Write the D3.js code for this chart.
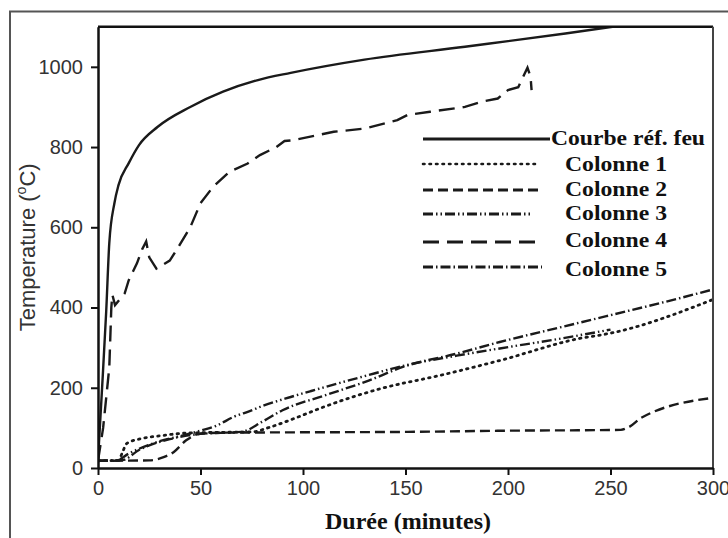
<!DOCTYPE html>
<html>
<head>
<meta charset="utf-8">
<script src="https://cdn.jsdelivr.net/npm/d3@7"></script>
<style>
  body { margin: 0; background: #fff; }
  svg { display: block; }
</style>
</head>
<body>
<div id="chart"></div>
<script>
// values: [minutes, °C]
const refCurve = [[0,20],[2,200],[4,390],[5.5,560],[8,660],[10,705],[15,760],[20,805],[29,850],[45,900],[61,938],[78,967],[94,985],[130,1018],[179,1050],[228,1083],[251,1100]];
const colonne1 = [[0,18],[10,19],[12,40],[14,61],[20,72],[30,80],[40,86],[50,88],[75,90],[84,102],[95,122],[110,152],[138,198],[167,231],[196,268],[235,323],[250,336],[300,420]];
const colonne2 = [[0,18],[25,19],[32,27],[37,40],[43,69],[50,86],[60,88],[100,89],[150,90],[200,93],[255,95],[259,102],[265,125],[300,175]];
const colonne3 = [[0,18],[9,19],[15,36],[29,65],[42,82],[50,93],[58,106],[66,127],[74,142],[81,156],[94,177],[104,192],[130,229],[150,256],[175,280],[196,298],[225,322],[250,345]];
const colonne4 = [[0,18],[2.5,100],[5.5,250],[6.5,400],[7,432],[8.3,406],[13,435],[15,468],[19,510],[21.5,545],[23.5,565],[25,525],[28.5,497],[35,517],[38.5,545],[45,600],[50,660],[56,700],[64,738],[73,759],[79,780],[87,800],[91,815],[95,817],[115,838],[130,846],[146,867],[151,880],[162,888],[179,900],[187,913],[195,921],[200,942],[205,949],[209.5,998],[211,975],[211.5,942]];
const colonne5 = [[0,18],[12,20],[20,45],[35,72],[50,85],[70,90],[80,115],[90,144],[110,180],[130,214],[150,254],[175,285],[196,314],[225,350],[250,381],[275,412],[300,445]];

const xTicks = [0, 50, 100, 150, 200, 250, 300];
const yTicks = [0, 200, 400, 600, 800, 1000];
const seriesNames = ["Courbe réf. feu", "Colonne 1", "Colonne 2", "Colonne 3", "Colonne 4", "Colonne 5"];

const series = [
  { name: seriesNames[0], data: refCurve, dash: null, curve: d3.curveMonotoneX },
  { name: seriesNames[1], data: colonne1, dash: "1.5,5", curve: d3.curveMonotoneX, round: true },
  { name: seriesNames[2], data: colonne2, dash: "10,5", curve: d3.curveMonotoneX },
  { name: seriesNames[3], data: colonne3, dash: "10,3,1.5,3,1.5,3", curve: d3.curveMonotoneX },
  { name: seriesNames[4], data: colonne4, dash: "16,8", curve: d3.curveLinear },
  { name: seriesNames[5], data: colonne5, dash: "10,3,1.5,3", curve: d3.curveMonotoneX }
];

const width = 728, height = 538;
const margin = {top: 26.7, right: 15, bottom: 70, left: 98};

const svg = d3.select("#chart").append("svg")
  .attr("width", width)
  .attr("height", height);

// outer frame (only top and left visible)
svg.append("path")
  .attr("d", `M10,${height} L10,11.5 L${width},11.5`)
  .attr("fill", "none")
  .attr("stroke", "#555")
  .attr("stroke-width", 2);

const x = d3.scaleLinear().domain([0, 300]).range([margin.left, width - margin.right]);
const y = d3.scaleLinear().domain([0, 1100]).range([height - margin.bottom, margin.top]);

svg.append("clipPath").attr("id", "plot-clip")
  .append("rect")
  .attr("x", x(0)).attr("y", y(1100))
  .attr("width", x(300) - x(0)).attr("height", y(0) - y(1100));

// curves
const line = d3.line().x(d => x(d[0])).y(d => y(d[1]));
const curves = svg.append("g").attr("clip-path", "url(#plot-clip)");
series.forEach(s => {
  curves.append("path")
    .datum(s.data)
    .attr("d", line.curve(s.curve))
    .attr("fill", "none")
    .attr("stroke", "#1a1a1a")
    .attr("stroke-width", s.round ? 2.8 : 2.4)
    .attr("stroke-linecap", s.round ? "round" : "butt")
    .attr("stroke-dasharray", s.dash);
});

// frame: top black, right grey
svg.append("line")
  .attr("x1", x(0)).attr("x2", x(300))
  .attr("y1", y(1100)).attr("y2", y(1100))
  .attr("stroke", "#111").attr("stroke-width", 2.5);
svg.append("line")
  .attr("x1", x(300)).attr("x2", x(300))
  .attr("y1", y(1100)).attr("y2", y(0))
  .attr("stroke", "#444").attr("stroke-width", 2);

// axes
const xAxis = svg.append("g")
  .attr("transform", `translate(0,${y(0)})`)
  .call(d3.axisBottom(x).tickValues(xTicks).tickFormat(d3.format("d")).tickSize(7).tickPadding(6).tickSizeOuter(0));
const yAxis = svg.append("g")
  .attr("transform", `translate(${x(0)},0)`)
  .call(d3.axisLeft(y).tickValues(yTicks).tickFormat(d3.format("d")).tickSize(7).tickPadding(8).tickSizeOuter(0));

[xAxis, yAxis].forEach(a => {
  a.select(".domain").attr("stroke", "#111").attr("stroke-width", 2.5);
  a.selectAll(".tick line").attr("stroke", "#111").attr("stroke-width", 2);
  a.selectAll(".tick text")
    .attr("fill", "#333")
    .style("font-family", "'Liberation Sans', Arial, sans-serif")
    .style("font-size", "20px");
});

// axis titles
svg.append("text")
  .attr("x", 408)
  .attr("y", 529)
  .attr("text-anchor", "middle")
  .attr("textLength", 166)
  .attr("lengthAdjust", "spacingAndGlyphs")
  .style("font-family", "'Liberation Serif', 'Times New Roman', serif")
  .style("font-weight", "bold")
  .style("font-size", "23px")
  .attr("fill", "#111")
  .text("Durée (minutes)");

const yTitle = svg.append("text")
  .attr("transform", `translate(35,${(y(0) + y(1100)) / 2}) rotate(-90)`)
  .attr("text-anchor", "middle")
  .style("font-family", "'Liberation Sans', Arial, sans-serif")
  .style("font-size", "22px")
  .attr("fill", "#333");
yTitle.append("tspan").text("Temperature (");
yTitle.append("tspan").attr("dy", -9).style("font-size", "14px").text("o");
yTitle.append("tspan").attr("dy", 9).text("C)");

// legend
const legendRows = [
  { lineY: 139, textY: 145, x2: 550, textX: 551, len: 154 },
  { lineY: 164, textY: 171, x2: 535, textX: 565, len: 102 },
  { lineY: 190, textY: 196, x2: 540, textX: 565, len: 102 },
  { lineY: 214, textY: 220, x2: 533, textX: 565, len: 102 },
  { lineY: 242, textY: 247, x2: 540, textX: 565, len: 102 },
  { lineY: 267, textY: 276, x2: 542, textX: 565, len: 102 }
];
const legend = svg.append("g");
series.forEach((s, i) => {
  const r = legendRows[i];
  legend.append("line")
    .attr("x1", 423).attr("x2", r.x2)
    .attr("y1", r.lineY).attr("y2", r.lineY)
    .attr("stroke", "#1a1a1a")
    .attr("stroke-width", s.round ? 2.6 : 2.8)
    .attr("stroke-linecap", s.round ? "round" : "butt")
    .attr("stroke-dasharray", s.dash);
  legend.append("text")
    .attr("x", r.textX).attr("y", r.textY)
    .attr("textLength", r.len)
    .attr("lengthAdjust", "spacingAndGlyphs")
    .style("font-family", "'Liberation Serif', 'Times New Roman', serif")
    .style("font-weight", "bold")
    .style("font-size", "21.5px")
    .attr("fill", "#111")
    .text(s.name);
});
</script>
</body>
</html>
